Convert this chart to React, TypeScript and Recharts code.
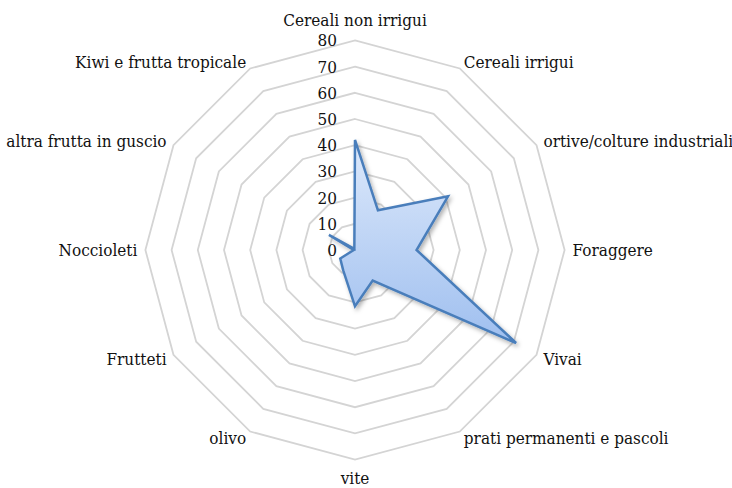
import { PolarAngleAxis, PolarGrid, PolarRadiusAxis, Radar, RadarChart } from 'recharts';

// Coltura (asse angolare) e relativo valore
const colture = [
    'Cereali non irrigui',
    'Cereali irrigui',
    'ortive/colture industriali',
    'Foraggere',
    'Vivai',
    'prati permanenti e pascoli',
    'vite',
    'olivo',
    'Frutteti',
    'Noccioleti',
    'altra frutta in guscio',
    'Kiwi e frutta tropicale',
];
const valori = [42, 17.5, 41, 23.5, 71, 13.5, 21.5, 9, 6.5, 0.5, 11.5, 0.5];
const radiusTicks = [0, 10, 20, 30, 40, 50, 60, 70, 80];

const data = colture.map((coltura, i) => ({ coltura, valore: valori[i] }));

const W = 732;
const H = 488;
const CX = 355;
const CY = 250;
const textStyle = {
    fontFamily: "'DejaVu Serif Condensed', 'DejaVu Serif', serif",
    fontStretch: 'condensed',
    fontSize: 17,
};

function AngleTick(props: any) {
    const { x, y, textAnchor, payload } = props;
    // top / bottom labels sit a bit further out than the side ones
    let dy = 0;
    if (textAnchor === 'middle') dy = y < CY ? -12 : 10;
    return (
        <text
            x={x}
            y={y + dy}
            textAnchor={textAnchor}
            dominantBaseline="central"
            style={textStyle}
            fill="#111"
        >
            {payload.value}
        </text>
    );
}

function RadiusTick(props: any) {
    const { x, y, payload } = props;
    return (
        <text x={x - 18} y={y} textAnchor="end" dominantBaseline="central" style={textStyle} fill="#111">
            {payload.value}
        </text>
    );
}

export default function App() {
    return (
        <div style={{ position: 'absolute', left: 0, top: 0, width: W, height: H, background: '#fff' }}>
            <svg width={0} height={0} style={{ position: 'absolute' }}>
                <defs>
                    <linearGradient id="radarFill" x1="0" y1="0" x2="0" y2="1">
                        <stop offset="0%" stopColor="#dde9fb" />
                        <stop offset="100%" stopColor="#9fbfef" />
                    </linearGradient>
                    <filter id="radarShadow" x="-10%" y="-10%" width="130%" height="130%">
                        <feDropShadow dx="2" dy="2.5" stdDeviation="2" floodColor="#000" floodOpacity="0.3" />
                    </filter>
                </defs>
            </svg>
            <RadarChart
                width={W}
                height={H}
                data={data}
                cx={CX}
                cy={CY}
                outerRadius={209.6}
                startAngle={90}
                endAngle={-270}
                margin={{ top: 0, right: 0, bottom: 0, left: 0 }}
            >
                <PolarGrid gridType="polygon" radialLines={false} stroke="#d4d4d4" strokeWidth={1.8} />
                <PolarAngleAxis dataKey="coltura" tick={<AngleTick />} tickLine={false} axisLine={false} />
                <PolarRadiusAxis
                    angle={90}
                    domain={[0, 80]}
                    ticks={radiusTicks as any}
                    tickCount={9}
                    tick={<RadiusTick />}
                    axisLine={false}
                    tickLine={false}
                />
                <Radar
                    dataKey="valore"
                    stroke="#4a7ebb"
                    strokeWidth={2.5}
                    strokeLinejoin="miter"
                    fill="url(#radarFill)"
                    fillOpacity={1}
                    filter="url(#radarShadow)"
                    isAnimationActive={false}
                />
            </RadarChart>
        </div>
    );
}
